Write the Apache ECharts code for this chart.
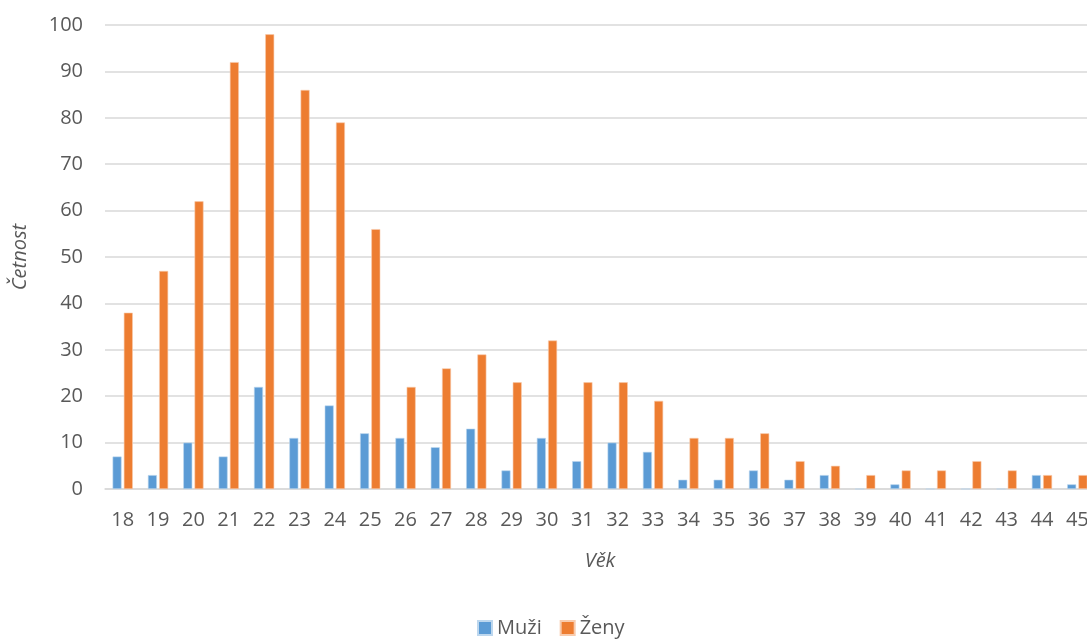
<!DOCTYPE html>
<html>
<head>
<meta charset="utf-8">
<script src="https://cdn.jsdelivr.net/npm/echarts@6/dist/echarts.min.js"></script>
<style>html,body{margin:0;padding:0;background:#fff;}#c{width:1087px;height:639px;}</style>
</head>
<body>
<div id="c"></div>
<script>
const categories = ['18','19','20','21','22','23','24','25','26','27','28','29','30','31','32','33','34','35','36','37','38','39','40','41','42','43','44','45'];
const muzi = [7,3,10,7,22,11,18,12,11,9,13,4,11,6,10,8,2,2,4,2,3,0,1,0,0,0,3,1];
const zeny = [38,47,62,92,98,86,79,56,22,26,29,23,32,23,23,19,11,11,12,6,5,3,4,4,6,4,3,3];
const yTicks = {min: 0, max: 100, interval: 10};

const chart = echarts.init(document.getElementById('c'));
const font = '"Open Sans", sans-serif';
chart.setOption({
  animation: false,
  textStyle: {fontFamily: font},
  grid: {left: 105, top: 25, width: 990, height: 464, containLabel: false, outerBoundsMode: 'none'},
  legend: {
    data: ['Muži', 'Ženy'],
    left: 472, top: 613,
    itemWidth: 14, itemHeight: 14, itemGap: 18,
    icon: 'rect',
    textStyle: {fontSize: 20, color: '#595959', fontFamily: font}
  },
  xAxis: {
    type: 'category',
    data: categories,
    name: 'Věk',
    nameLocation: 'middle',
    nameGap: 62,
    nameTextStyle: {fontSize: 20, fontStyle: 'italic', color: '#595959', fontFamily: font},
    axisLine: {show: true, lineStyle: {color: '#D9D9D9', width: 1.5}},
    axisTick: {show: false},
    axisLabel: {fontSize: 20, color: '#595959', margin: 21, interval: 0, fontFamily: font}
  },
  yAxis: {
    type: 'value',
    min: yTicks.min, max: yTicks.max, interval: yTicks.interval,
    name: 'Četnost',
    nameLocation: 'middle',
    nameGap: 75,
    nameTextStyle: {fontSize: 20, fontStyle: 'italic', color: '#595959', fontFamily: font},
    axisLine: {show: false},
    axisTick: {show: false},
    axisLabel: {fontSize: 20, color: '#595959', margin: 22, fontFamily: font},
    splitLine: {lineStyle: {color: '#D9D9D9', width: 1.5}}
  },
  series: [
    {name: 'Muži', type: 'bar', data: muzi, barWidth: 9, barGap: '25%',
     itemStyle: {color: '#5B9BD5', borderColor: '#BDD7EE', borderWidth: 0.6}},
    {name: 'Ženy', type: 'bar', data: zeny, barWidth: 9, barGap: '25%',
     itemStyle: {color: '#ED7D31', borderColor: '#F8CBAD', borderWidth: 0.6}}
  ]
});
</script>
</body>
</html>
